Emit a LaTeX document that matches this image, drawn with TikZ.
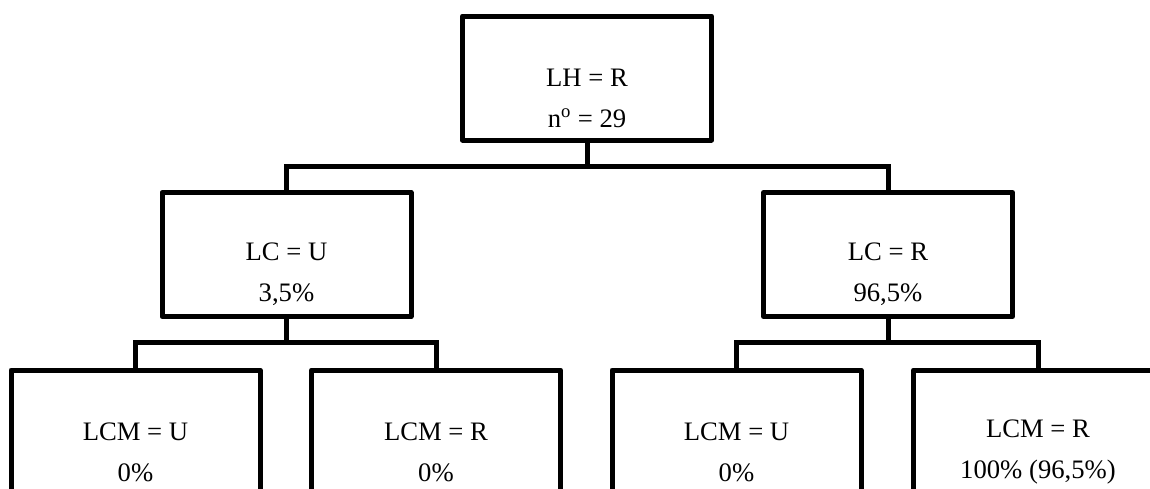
\documentclass[tikz,border=0pt]{standalone}
\usepackage{fontspec}
\setmainfont{Liberation Serif}
\usetikzlibrary{positioning,calc}

\begin{document}
\begin{tikzpicture}[x=0.75pt,y=-0.75pt,
      box/.style={rectangle,draw=black,line width=3.75pt,line join=round,
                  minimum width=186.75pt,minimum height=93pt,inner sep=0pt},
      txt/.style={align=center,font=\fontsize{20pt}{30.75pt}\selectfont,inner sep=0pt},
      link/.style={draw=black,line width=3.75pt,line join=miter}]

      \clip (0,0) rectangle (1150,489);

      % Caixas
      \node[box] (lh)   at (587,78)    {};
      \node[box] (lcu)  at (286.5,254.5) {};
      \node[box] (lcr)  at (888,254.5) {};
      \node[box] (lcmuu) at (135.5,432) {};
      \node[box] (lcmur) at (436,432)   {};
      \node[box] (lcmru) at (736.5,432) {};
      \node[box] (lcmrr) at (1038,432)  {};

      % Textos
      \node[txt] (tlh)    at ([yshift=-15pt]lh.center)    {LH = R\\n\textsuperscript{o} = 29};
      \node[txt] (tlcu)   at ([yshift=-15pt]lcu.center)   {LC = U\\3,5\%};
      \node[txt] (tlcr)   at ([yshift=-15pt]lcr.center)   {LC = R\\96,5\%};
      \node[txt] (tlcmuu) at ([yshift=-15pt]lcmuu.center) {LCM = U\\0\%};
      \node[txt] (tlcmur) at ([yshift=-15pt]lcmur.center) {LCM = R\\0\%};
      \node[txt] (tlcmru) at ([yshift=-15pt]lcmru.center) {LCM = U\\0\%};
      \node[txt] (tlcmrr) at ([yshift=-15pt]lcmrr.center) {LCM = R\\100\% (96,5\%)};

      % Ligacoes
      \coordinate (j1) at (587,166);
      \coordinate (j2) at (286.5,342);
      \coordinate (j3) at (888,342);
      \draw[link] (lh.south) -- (j1);
      \draw[link] (lcu.north) |- (j1) -| (lcr.north);
      \draw[link] (lcu.south) -- (j2);
      \draw[link] (lcmuu.north) |- (j2) -| (lcmur.north);
      \draw[link] (lcr.south) -- (j3);
      \draw[link] (lcmru.north) |- (j3) -| (lcmrr.north);
    \end{tikzpicture}
\end{document}
